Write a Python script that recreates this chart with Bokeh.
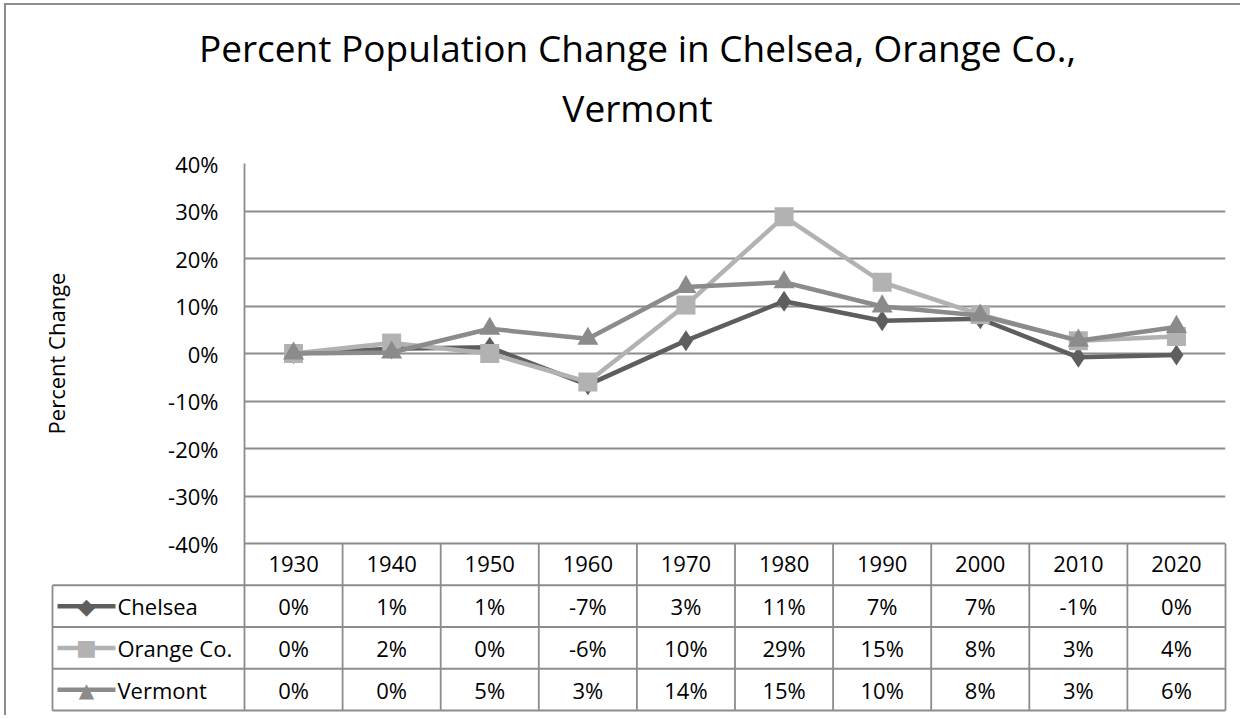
import math
from bokeh.plotting import figure
from bokeh.models import Range1d, FixedTicker, PrintfTickFormatter, ColumnDataSource
from bokeh.core.properties import value
from bokeh.embed import file_html
from bokeh.resources import INLINE

# ---------------- data ----------------
years = ["1930", "1940", "1950", "1960", "1970", "1980", "1990", "2000", "2010", "2020"]
series_names = ["Chelsea", "Orange Co.", "Vermont"]
chelsea = [0.0, 1.0, 1.3, -6.6, 2.7, 11.0, 6.9, 7.3, -0.8, -0.3]
orange_co = [0.0, 2.2, 0.0, -6.0, 10.2, 28.8, 15.0, 8.2, 2.7, 3.6]
vermont = [0.0, 0.2, 5.2, 3.1, 14.0, 15.0, 9.9, 8.0, 2.7, 5.6]
y_ticks = [-40, -30, -20, -10, 0, 10, 20, 30, 40]
title_lines = ["Percent Population Change in Chelsea, Orange Co.,", "Vermont"]
y_label = "Percent Change"

# ---------------- style ----------------
FONT = "Open Sans"
colors = ["#5e5e5e", "#b2b2b2", "#8b8b8b"]
markers = ["diamond", "square", "triangle"]
sizes = [21, 19, 21]
key_symbols = ["\u25c6", "\u25a0", "\u25b2"]
key_sizes = ["22px", "22px", "20px"]
GRID = "#8c8c8c"

# layout (page pixels)
OX, OY = 6, 5               # canvas origin on the page (after margin + border)
W, H = 1236, 712
F_L, F_R, F_T, F_B = 244, 1225, 163, 710
PX_UNIT = 4.75              # px per percent point
ROW_PX = (F_B - F_T - (y_ticks[-1] - y_ticks[0]) * PX_UNIT) / 4.0
rh = ROW_PX / PX_UNIT       # table row height in data units
n = len(years)
col_px = (F_R - F_L) / n
x_leg = -(F_L - 52) / col_px  # left edge of legend column (data units)

y_bottom = y_ticks[0] - 4 * rh

p = figure(width=W, height=H, output_backend="svg", toolbar_location=None,
           x_range=Range1d(0, n), y_range=Range1d(y_bottom, y_ticks[-1]),
           x_axis_location=None,
           min_border_left=F_L - OX, min_border_right=W - (F_R - OX),
           min_border_top=F_T - OY, min_border_bottom=H - (F_B - OY))
p.styles = {"border-left": "2px solid #8c8c8c", "border-top": "2px solid #8c8c8c",
            "margin-left": "4px", "margin-top": "3px"}
p.outline_line_color = None
p.background_fill_color = "white"
p.border_fill_color = "white"

# y axis
p.yaxis.ticker = FixedTicker(ticks=y_ticks)
p.yaxis.formatter = PrintfTickFormatter(format="%d%%")
p.yaxis.major_tick_line_color = None
p.yaxis.minor_tick_line_color = None
p.yaxis.major_tick_out = 0
p.yaxis.major_tick_in = 0
p.yaxis.major_label_standoff = 26
p.yaxis.major_label_text_font = FONT
p.yaxis.major_label_text_font_size = "22px"
p.yaxis.major_label_text_color = "black"
p.yaxis.axis_line_color = GRID
p.yaxis.axis_line_width = 1.8

p.xgrid.visible = False
p.ygrid.ticker = FixedTicker(ticks=y_ticks)
p.ygrid.grid_line_color = GRID
p.ygrid.grid_line_width = 1.8

# series
x_centers = [i + 0.5 for i in range(n)]
all_vals = [chelsea, orange_co, vermont]
for name, vals, c, m, s in zip(series_names, all_vals, colors, markers, sizes):
    src = ColumnDataSource(dict(x=x_centers, y=vals))
    p.line("x", "y", source=src, line_color=c, line_width=4.5)
    p.scatter("x", "y", source=src, marker=m, size=s, fill_color=c, line_color=None)

# data table (below the plot area)
txt_kw = dict(text_font=value(FONT), text_font_size="22px", text_baseline="middle",
              text_color="black")
hdr_y = y_ticks[0] - rh / 2
p.text(x=x_centers, y=[hdr_y] * n, text=years, text_align="center", **txt_kw)
row_y = [y_ticks[0] - rh * (j + 1) - rh / 2 for j in range(len(all_vals))]
for j, vals in enumerate(all_vals):
    p.text(x=x_centers, y=[row_y[j]] * n, text=[f"{round(v)}%" for v in vals],
           text_align="center", **txt_kw)

x0s, y0s, x1s, y1s = [], [], [], []
for k in range(1, n + 1):
    x0s.append(k); x1s.append(k); y0s.append(y_ticks[0]); y1s.append(y_bottom)
x0s.append(x_leg); x1s.append(x_leg); y0s.append(y_ticks[0] - rh); y1s.append(y_bottom)
for k in range(1, 5):
    yy = y_ticks[0] - rh * k
    x0s.append(x_leg); x1s.append(n); y0s.append(yy); y1s.append(yy)
seg = p.segment(x0=x0s, y0=y0s, x1=x1s, y1=y1s, line_color=GRID, line_width=1.8)
seg.level = "annotation"

# legend keys inside the table's first column
lx0 = x_leg + 5 / col_px
lx1 = x_leg + 63 / col_px
lxm = (lx0 + lx1) / 2
ltx = x_leg + 65 / col_px
for j, (name, c, sym, fs) in enumerate(zip(series_names, colors, key_symbols, key_sizes)):
    r1 = p.segment(x0=[lx0], y0=[row_y[j]], x1=[lx1], y1=[row_y[j]], line_color=c, line_width=4.5)
    r2 = p.text(x=[lxm], y=[row_y[j]], text=[sym], text_font=value("DejaVu Sans"),
                text_font_size=fs, text_align="center", text_baseline="middle", text_color=c)
    r3 = p.text(x=[ltx], y=[row_y[j]], text=[name], text_align="left", **txt_kw)
    for r in (r1, r2, r3):
        r.level = "annotation"

# y axis title, centred on the plot area
ry = p.text(x=[-(F_L - 55) / col_px], y=[(y_ticks[0] + y_ticks[-1]) / 2], text=[y_label],
            angle=math.pi / 2, text_align="center", **txt_kw)
ry.level = "annotation"

# title
title_x = (637 - F_L) / col_px
for t, base in zip(title_lines, [47, 107]):
    r = p.text(x=[title_x], y=[y_ticks[-1] + (F_T - base) / PX_UNIT], text=[t],
               text_font=value(FONT), text_font_size="37px", text_align="center",
               text_baseline="alphabetic", text_color="black")
    r.level = "annotation"

open("out.html", "w").write(file_html(p, INLINE))
